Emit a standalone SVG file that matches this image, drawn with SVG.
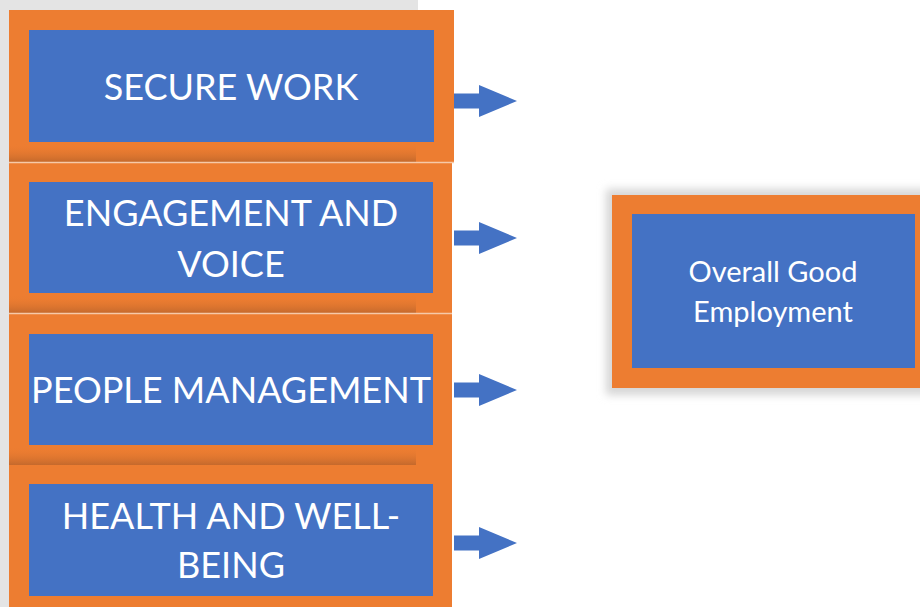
<svg xmlns="http://www.w3.org/2000/svg" width="920" height="607" viewBox="0 0 920 607">
  <style>
    .outer { fill: #ed7d31; }
    .inner { fill: #4472c4; }
    .band { fill: url(#bandGrad); }
    .sep { stroke: #f6c9a8; stroke-width: 1.5; }
    .lbl { fill: #ffffff; font-family: Lato, "Liberation Sans", sans-serif; text-anchor: middle; }
    .big { font-size: 36px; }
    .small { font-size: 29px; }
    .arrow { fill: #4472c4; }
  </style>
  <defs>
    <linearGradient id="bandGrad" x1="0" y1="0" x2="0" y2="1">
      <stop offset="0" stop-color="#ed7d31" stop-opacity="0"/>
      <stop offset="1" stop-color="#c4692c"/>
    </linearGradient>
    <filter id="blur" x="-10%" y="-10%" width="120%" height="120%">
      <feGaussianBlur stdDeviation="4"/>
    </filter>
    <path id="blockArrow" d="M0,-7.5 H25 V-16 L63,0 L25,16 V7.5 H0 Z"/>
  </defs>

  <rect width="920" height="607" fill="#ffffff"/>
  <!-- shadow behind left stack -->
  <rect x="-10" y="-10" width="428" height="630" fill="#e4e4e4"/>
  <!-- shadow behind right box -->
  <rect x="606" y="189" width="330" height="206" fill="#d6d6d6" filter="url(#blur)"/>

  <g id="node-secure-work">
    <rect class="outer" x="9" y="10" width="445" height="152"/>
    <rect class="band" x="9" y="144" width="407" height="18"/>
    <rect class="inner" x="29" y="30" width="405" height="112"/>
    <text class="lbl big" x="231" y="100">SECURE WORK</text>
  </g>

  <g id="node-engagement-voice">
    <rect class="outer" x="9" y="163" width="443" height="150"/>
    <rect class="band" x="9" y="295" width="407" height="18"/>
    <rect class="inner" x="29" y="182" width="404" height="111"/>
    <text class="lbl big" x="231" y="226">ENGAGEMENT AND</text>
    <text class="lbl big" x="231" y="277">VOICE</text>
  </g>

  <g id="node-people-management">
    <rect class="outer" x="9" y="314" width="443" height="151"/>
    <rect class="band" x="9" y="447" width="407" height="18"/>
    <rect class="inner" x="29" y="334" width="404" height="111"/>
    <text class="lbl big" x="231" y="403">PEOPLE MANAGEMENT</text>
  </g>

  <g id="node-health-wellbeing">
    <rect class="outer" x="9" y="465" width="443" height="142"/>
    <rect class="inner" x="29" y="484" width="404" height="112"/>
    <text class="lbl big" x="231" y="529">HEALTH AND WELL-</text>
    <text class="lbl big" x="231" y="578">BEING</text>
  </g>

  <g id="separators">
    <line class="sep" x1="9" y1="162.5" x2="454" y2="162.5"/>
    <line class="sep" x1="9" y1="313.5" x2="452" y2="313.5"/>
  </g>

  <g id="node-overall-good-employment">
    <rect class="outer" x="612" y="195" width="308" height="193"/>
    <rect class="inner" x="632" y="214" width="283" height="154"/>
    <text class="lbl small" x="773" y="282">Overall Good</text>
    <text class="lbl small" x="773" y="322">Employment</text>
  </g>

  <g id="connectors">
    <use class="arrow" href="#blockArrow" x="454" y="101"/>
    <use class="arrow" href="#blockArrow" x="454" y="238"/>
    <use class="arrow" href="#blockArrow" x="454" y="390"/>
    <use class="arrow" href="#blockArrow" x="454" y="543"/>
  </g>
</svg>
